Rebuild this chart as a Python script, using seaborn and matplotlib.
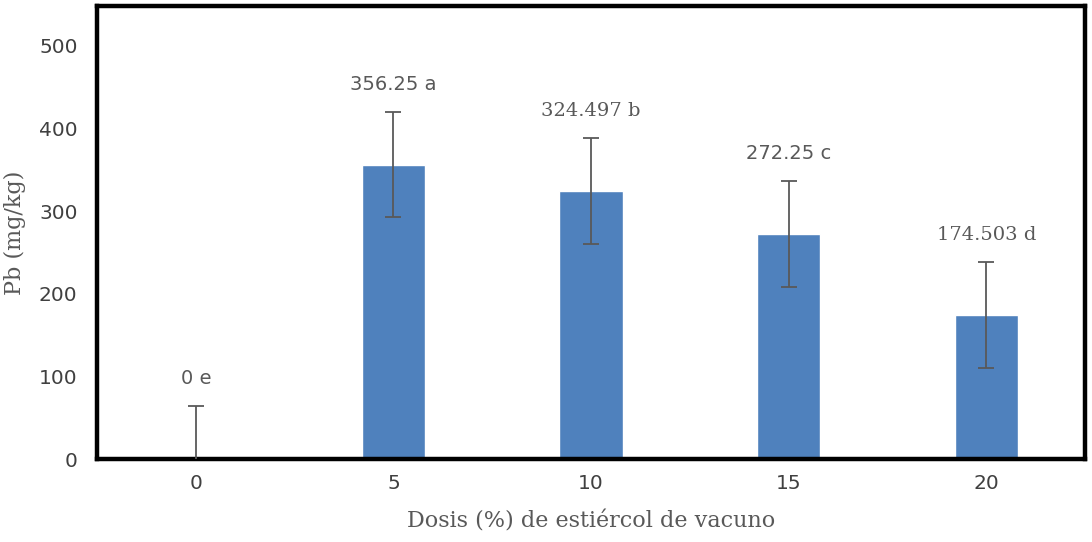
import matplotlib
matplotlib.use("Agg")
import matplotlib.pyplot as plt
import seaborn as sns
import pandas as pd

# Pb content by cattle-manure dose
doses = ["0", "5", "10", "15", "20"]
pb_values = [0, 356.25, 324.497, 272.25, 174.503]
pb_errors = [64, 64, 64, 64, 64]
groups = ["e", "a", "b", "c", "d"]
label_fonts = ["DejaVu Sans", "DejaVu Sans", "DejaVu Serif", "DejaVu Sans", "DejaVu Serif"]
y_ticks = [0, 100, 200, 300, 400, 500]

df = pd.DataFrame({"dose": doses, "pb": pb_values})

sns.set_theme(style="white")
plt.rcParams["font.family"] = ["DejaVu Sans"]

fig, ax = plt.subplots(figsize=(10.92, 5.42), dpi=100)
fig.subplots_adjust(left=0.0888, right=0.9936, top=0.989, bottom=0.153)

bar_color = "#4F81BD"
sns.barplot(data=df, x="dose", y="pb", order=doses, color=bar_color,
            saturation=1, width=0.32, errorbar=None, ax=ax)

xs = list(range(len(doses)))
ax.errorbar(xs, pb_values, yerr=pb_errors, fmt="none", ecolor="#595959",
            elinewidth=1.3, capsize=6, capthick=1.3, zorder=3)

for x, v, e, g, fam in zip(xs, pb_values, pb_errors, groups, label_fonts):
    label = f"{v:g} {g}"
    ax.annotate(label, xy=(x, v + e), xytext=(0, 13), textcoords="offset points",
                ha="center", va="bottom", fontsize=14, color="#595959",
                family=fam)

ax.set_xlim(-0.5, len(doses) - 0.5)
ax.set_ylim(0, 548)
ax.set_yticks(y_ticks)
ax.tick_params(axis="both", length=0, labelsize=14.5, labelcolor="#404040", pad=14)
ax.tick_params(axis="x", pad=11)

for side in ["left", "right", "top", "bottom"]:
    ax.spines[side].set_visible(True)
    ax.spines[side].set_color("black")
    ax.spines[side].set_linewidth(3.2)

ax.set_xlabel("Dosis (%) de estiércol de vacuno", fontsize=16, color="#595959",
              family="DejaVu Serif", labelpad=12)
ax.set_ylabel("Pb (mg/kg)", fontsize=16, color="#595959",
              family="DejaVu Serif", labelpad=9)

fig.savefig("out.png", dpi=100, facecolor="white")
